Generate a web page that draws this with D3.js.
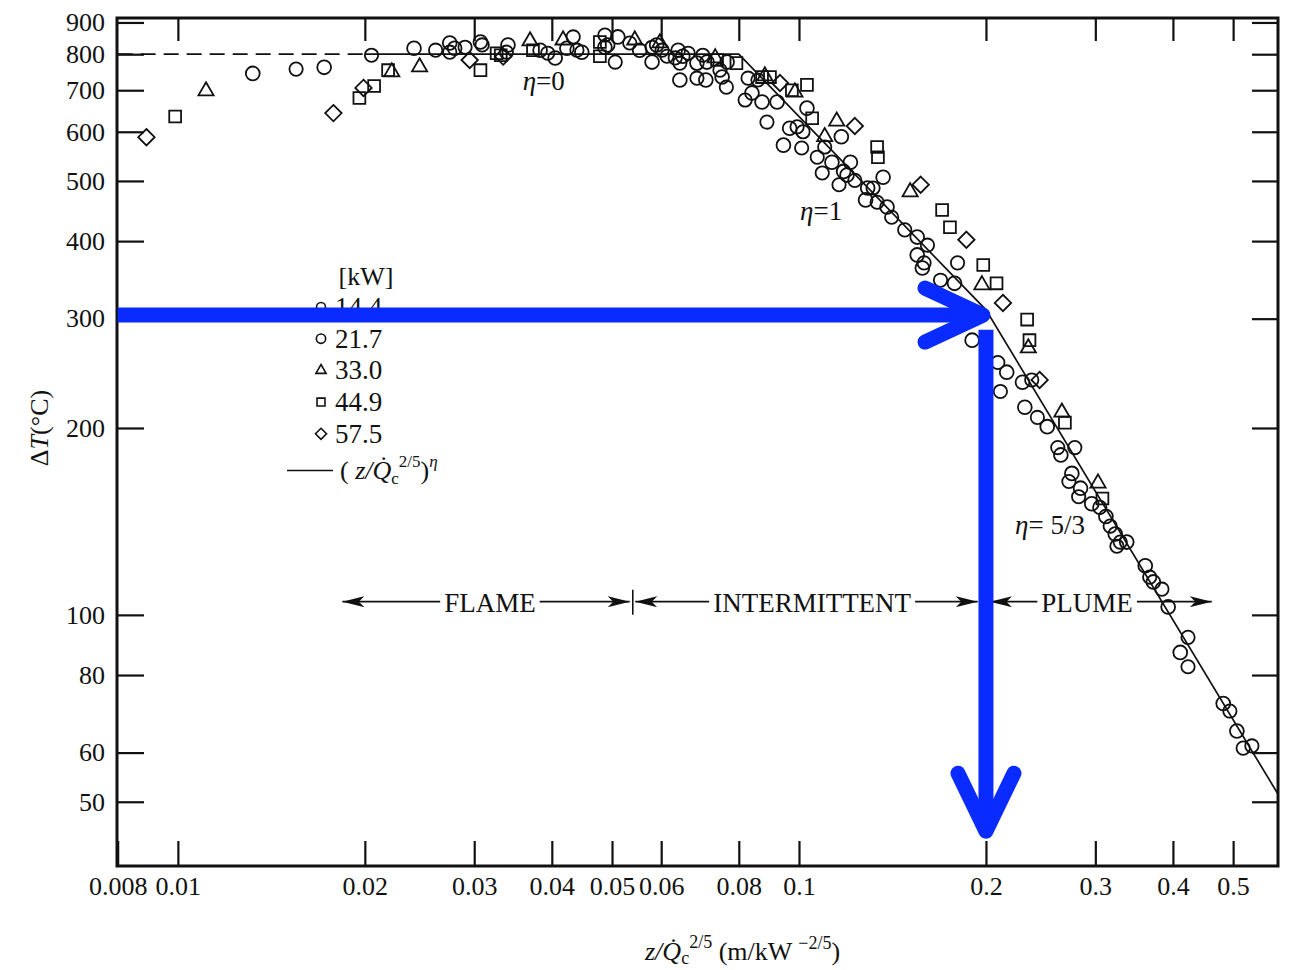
<!DOCTYPE html>
<html>
<head>
<meta charset="utf-8">
<script src="https://cdn.jsdelivr.net/npm/d3@7"></script>
<style>
  body { margin: 0; background: #fff; }
  text { font-family: "Liberation Serif", "Times New Roman", serif; fill: #111; }
</style>
</head>
<body>
<svg id="chart" width="1289" height="970"></svg>
<script>
// ---- data: [z/Qc^(2/5), deltaT] ----
const q14 = [[0.0155,757],[0.0205,797],[0.0260,812],[0.0274,806],[0.0290,821],[0.0309,828],[0.0338,806],[0.0394,803],
  [0.0433,853],[0.0439,812],[0.0487,859],[0.0506,777],[0.0534,834],[0.0580,821],[0.0602,812],[0.0613,794],
  [0.0632,789],[0.0643,774],[0.0663,803],[0.0700,797],[0.0685,732],[0.0746,754],[0.0764,708],[0.0828,732],
  [0.0819,675],[0.0888,622],[0.0859,727],[0.0993,611],[0.1015,600],[0.101,565],[0.110,567],[0.107,546],
  [0.109,515],[0.116,493],[0.123,501],[0.1316,487],[0.1336,462],[0.141,437],[0.148,417],[0.161,394],
  [0.159,369],[0.169,346],[0.180,369],[0.209,255],[0.211,229],[0.237,239],[0.242,208],[0.261,186],
  [0.278,186],[0.272,164],[0.282,155],[0.305,149],[0.317,139],[0.329,131],[0.325,129],[0.367,115],
  [0.384,110],[0.423,92],[0.423,82.5],[0.494,70],[0.519,61],[0.536,61.5]];
const q21 = [[0.0132,745],[0.0172,762],[0.0240,818],[0.0274,834],[0.0279,818],[0.0307,837],[0.0340,828],[0.0383,812],
  [0.0405,789],[0.0423,818],[0.0447,806],[0.0492,828],[0.0511,853],[0.0487,821],[0.0554,812],[0.0590,828],
  [0.0580,777],[0.0639,812],[0.0650,794],[0.0643,727],[0.0685,774],[0.0711,777],[0.0708,727],[0.0752,735],
  [0.0766,777],[0.0840,693],[0.0872,670],[0.0922,670],[0.0966,608],[0.103,655],[0.0944,571],[0.117,589],
  [0.1366,507],[0.113,536],[0.121,536],[0.1195,511],[0.129,487],[0.128,466],[0.1386,454],[0.118,518],
  [0.155,406],[0.155,380],[0.158,362],[0.178,342],[0.190,277],[0.216,246],[0.229,237],[0.231,216],
  [0.251,201],[0.264,181],[0.275,169],[0.284,160],[0.296,151],[0.312,144],[0.323,135],[0.337,131],
  [0.361,120],[0.372,113],[0.393,103],[0.411,87],[0.482,72],[0.507,65]];
const q33 = [[0.0111,698],[0.0221,749],[0.0245,763],[0.0369,840],[0.0417,843],[0.0544,843],[0.0597,834],[0.0733,789],
  [0.0881,738],[0.0985,695],[0.115,624],[0.110,589],[0.151,480],[0.197,340],[0.234,269],[0.265,212],[0.303,163]];
const q44 = [[0.0099,635],[0.0196,680],[0.0207,711],[0.0218,754],[0.0307,754],[0.0326,803],[0.0331,797],[0.0373,812],
  [0.0478,837],[0.0478,794],[0.0738,783],[0.0793,774],[0.0872,735],[0.0898,735],[0.0974,700],[0.103,714],
  [0.105,631],[0.1336,567],[0.134,546],[0.170,449],[0.175,421],[0.198,366],[0.208,342],[0.233,299],
  [0.235,277],[0.268,204],[0.308,154]];
const q57 = [[0.0089,588],[0.0178,643],[0.0199,706],[0.0295,783],[0.0334,793],[0.0932,719],[0.123,613],[0.157,493],
  [0.186,402],[0.213,318],[0.244,239]];

const legendLabels = ["14.4", "21.7", "33.0", "44.9", "57.5"];

// (z/Qc^2/5)^eta correlation, straight pieces on log-log
const fitDashed = [[0.008,800],[0.02,800]];
const fitSolid = [[0.02,800],[0.08,800],[0.2,310],[0.59,51.5]];

const xTicks = [0.008,0.01,0.02,0.03,0.04,0.05,0.06,0.08,0.1,0.2,0.3,0.4,0.5];
const xTickLabels = ["0.008","0.01","0.02","0.03","0.04","0.05","0.06","0.08","0.1","0.2","0.3","0.4","0.5"];
const yTicks = [900,800,700,600,500,400,300,200,100,80,60,50];

const etaText = ["0", "1", " 5/3"];
const etaAt = [[0.0359,700],[0.1004,432],[0.2228,135]];

const regionLabels = ["FLAME","INTERMITTENT","PLUME"];
const regionFrom = [0.0184, 0.0545, 0.203];
const regionTo = [0.0534, 0.194, 0.462];
const regionMid = [0.0318, 0.105, 0.291];
const regionLevel = 105;
const regionBreak = 0.054;

// blue read-off arrows: 300 degC -> 0.2
const readH = [[0.008,304],[0.19,304]];
const readV = [[0.2,288],[0.2,45.5]];

// ---- chart ----
const svg = d3.select("#chart");
const ink = "#111";
const plotLeft = 117, plotRight = 1278, plotTop = 18, plotBottom = 866;

const x = d3.scaleLog().domain([0.00798, 0.5905]).range([plotLeft, plotRight]);
const y = d3.scaleLog().domain([39.4, 915]).range([plotBottom, plotTop]);

function styleAxis(g) {
  g.select(".domain").remove();
  g.selectAll(".tick line").attr("stroke", ink).attr("stroke-width", 2.2);
  g.attr("font-family", null).attr("font-size", 26);
}

svg.append("g").attr("transform", `translate(0,${plotBottom})`)
  .call(d3.axisBottom(x).tickValues(xTicks).tickFormat((d, i) => xTickLabels[i]).tickSize(-25).tickPadding(11))
  .call(styleAxis);
svg.append("g").attr("transform", `translate(0,${plotTop})`)
  .call(d3.axisTop(x).tickValues(xTicks.slice(1)).tickFormat("").tickSize(-23))
  .call(styleAxis);
svg.append("g").attr("transform", `translate(${plotLeft},0)`)
  .call(d3.axisLeft(y).tickValues(yTicks).tickFormat(d3.format("d")).tickSize(-27).tickPadding(12))
  .call(styleAxis);
svg.append("g").attr("transform", `translate(${plotRight},0)`)
  .call(d3.axisRight(y).tickValues(yTicks).tickFormat("").tickSize(-26))
  .call(styleAxis);

svg.append("rect")
  .attr("x", plotLeft).attr("y", plotTop).attr("width", plotRight - plotLeft).attr("height", plotBottom - plotTop)
  .attr("fill", "none").attr("stroke", ink).attr("stroke-width", 3);

// correlation line
const line = d3.line().x(d => x(d[0])).y(d => y(d[1]));
svg.append("path").attr("d", line(fitDashed))
  .attr("fill", "none").attr("stroke", ink).attr("stroke-width", 1.8).attr("stroke-dasharray", "15,8");
svg.append("path").attr("d", line(fitSolid))
  .attr("fill", "none").attr("stroke", ink).attr("stroke-width", 1.7);

// markers
const diamond = { draw(ctx, size) { const r = Math.sqrt(size / 2); ctx.moveTo(0, -r); ctx.lineTo(r, 0); ctx.lineTo(0, r); ctx.lineTo(-r, 0); ctx.closePath(); } };
const series = [
  { data: q14, type: d3.symbolCircle, size: 140 },
  { data: q21, type: d3.symbolCircle, size: 150 },
  { data: q33, type: d3.symbolTriangle, size: 100 },
  { data: q44, type: d3.symbolSquare, size: 140 },
  { data: q57, type: diamond, size: 135 }
];
series.forEach(s => {
  svg.append("g").selectAll("path")
    .data(s.data)
    .enter()
    .append("path")
    .attr("transform", d => `translate(${x(d[0])},${y(d[1])})`)
    .attr("d", d3.symbol().type(s.type).size(s.size))
    .attr("fill", "none")
    .attr("stroke", ink)
    .attr("stroke-width", 1.8);
});

// eta labels
etaAt.forEach((p, i) => {
  const t = svg.append("text").attr("x", x(p[0])).attr("y", y(p[1])).attr("font-size", 27);
  t.append("tspan").attr("font-style", "italic").text("η");
  t.append("tspan").text("=" + etaText[i]);
});

// flame / intermittent / plume arrows
const defs = svg.append("defs");
defs.append("marker").attr("id", "head").attr("viewBox", "0 0 20 10")
  .attr("refX", 20).attr("refY", 5).attr("markerWidth", 22).attr("markerHeight", 11)
  .attr("markerUnits", "userSpaceOnUse").attr("orient", "auto-start-reverse")
  .append("path").attr("d", "M0,0 L20,5 L0,10 L5,5 Z").attr("fill", ink);

const ry = y(regionLevel);
regionLabels.forEach((lab, i) => {
  const t = svg.append("text").attr("x", x(regionMid[i])).attr("y", ry + 10)
    .attr("text-anchor", "middle").attr("font-size", 27).text(lab);
  const w = t.node().getComputedTextLength();
  svg.append("line").attr("x1", x(regionFrom[i])).attr("x2", x(regionMid[i]) - w / 2 - 4)
    .attr("y1", ry).attr("y2", ry).attr("stroke", ink).attr("stroke-width", 1.8)
    .attr("marker-start", "url(#head)");
  svg.append("line").attr("x1", x(regionMid[i]) + w / 2 + 4).attr("x2", x(regionTo[i]))
    .attr("y1", ry).attr("y2", ry).attr("stroke", ink).attr("stroke-width", 1.8)
    .attr("marker-end", "url(#head)");
});
svg.append("line").attr("x1", x(regionBreak)).attr("x2", x(regionBreak))
  .attr("y1", ry - 12).attr("y2", ry + 13).attr("stroke", ink).attr("stroke-width", 1.6);

// legend
const legX = 321, legY0 = 307, legStep = 31.7;
svg.append("text").attr("x", 366).attr("y", 285).attr("text-anchor", "middle").attr("font-size", 26).text("[kW]");
series.forEach((s, i) => {
  const cy = legY0 + i * legStep;
  svg.append("path").attr("transform", `translate(${legX},${cy})`)
    .attr("d", d3.symbol().type(s.type).size(s.size * 0.45))
    .attr("fill", "none").attr("stroke", ink).attr("stroke-width", 1.6);
  svg.append("text").attr("x", legX + 14).attr("y", cy + 9).attr("font-size", 27).text(legendLabels[i]);
});
const lineRowY = legY0 + 5 * legStep + 5;
svg.append("line").attr("x1", 287).attr("x2", 333).attr("y1", lineRowY).attr("y2", lineRowY)
  .attr("stroke", ink).attr("stroke-width", 1.6);
const ft = svg.append("text").attr("x", 340).attr("y", lineRowY + 8).attr("font-size", 26);
ft.append("tspan").text("(");
ft.append("tspan").attr("font-style", "italic").text(" z/Q\u0307");
ft.append("tspan").attr("font-size", 17).attr("dy", 5).text("c");
ft.append("tspan").attr("font-size", 17).attr("dy", -17).text("2/5");
ft.append("tspan").attr("dy", 12).text(")");
ft.append("tspan").attr("font-style", "italic").attr("font-size", 17).attr("dy", -12).text("η");

// axis titles
const yl = svg.append("text").attr("transform", "translate(48,428) rotate(-90)")
  .attr("text-anchor", "middle").attr("font-size", 26);
yl.append("tspan").text("Δ");
yl.append("tspan").attr("font-style", "italic").text("T");
yl.append("tspan").text("(°C)");

const xl = svg.append("text").attr("x", 645).attr("y", 960).attr("font-size", 26);
xl.append("tspan").attr("font-style", "italic").text("z/Q\u0307");
xl.append("tspan").attr("font-size", 18).attr("dy", 4).text("c");
xl.append("tspan").attr("font-size", 18).attr("dy", -16).text("2/5");
xl.append("tspan").attr("dy", 12).text(" (m/kW ");
xl.append("tspan").attr("font-size", 18).attr("dy", -11).text("\u22122/5");
xl.append("tspan").attr("dy", 11).text(")");

// blue read-off arrows
const blue = "#0a2bff";
function chevron(tip, ax, ay, bx, by) {
  return `M${tip[0] + ax},${tip[1] + ay} L${tip[0]},${tip[1]} L${tip[0] + bx},${tip[1] + by}`;
}
svg.append("path").attr("d", line(readH))
  .attr("fill", "none").attr("stroke", blue).attr("stroke-width", 15);
const tipH = [x(0.1978), y(readH[0][1])];
svg.append("path").attr("d", chevron(tipH, -58, -27, -58, 27))
  .attr("fill", "none").attr("stroke", blue).attr("stroke-width", 15)
  .attr("stroke-linecap", "round").attr("stroke-linejoin", "round");
svg.append("path").attr("d", line(readV))
  .attr("fill", "none").attr("stroke", blue).attr("stroke-width", 15);
const tipV = [x(readV[1][0]), y(readV[1][1]) + 4];
svg.append("path").attr("d", chevron(tipV, -28, -58, 28, -58))
  .attr("fill", "none").attr("stroke", blue).attr("stroke-width", 15)
  .attr("stroke-linecap", "round").attr("stroke-linejoin", "round");
</script>
</body>
</html>
